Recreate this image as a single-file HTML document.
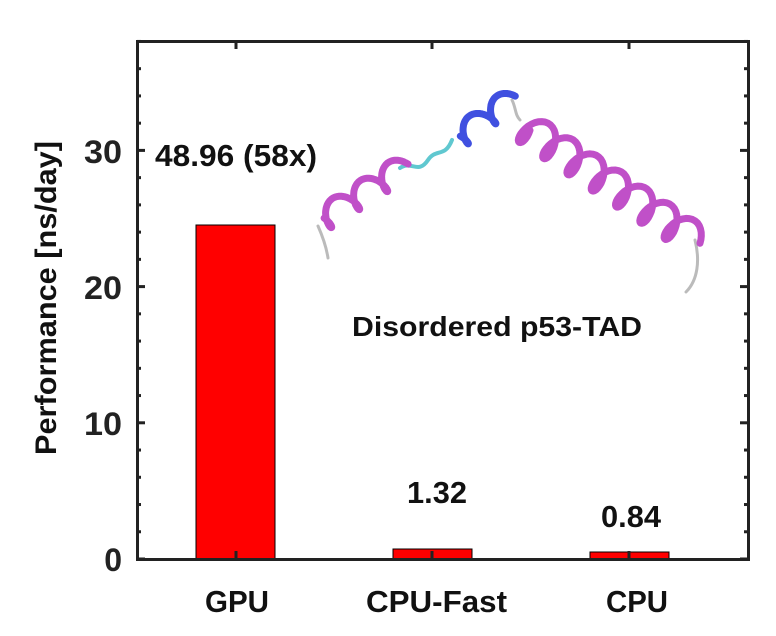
<!DOCTYPE html>
<html><head><style>body{margin:0;background:#fff}svg{display:block}</style></head><body>
<svg id="s" width="776" height="636" viewBox="0 0 776 636" xmlns="http://www.w3.org/2000/svg" font-family="Liberation Sans, Arial, sans-serif" font-weight="bold">
<rect width="776" height="636" fill="#fff"/>
<rect x="196" y="225" width="79" height="334" fill="#f00" stroke="#000" stroke-width="1"/>
<rect x="393" y="549" width="79" height="10" fill="#f00" stroke="#000" stroke-width="1"/>
<rect x="590" y="552" width="79" height="7" fill="#f00" stroke="#000" stroke-width="1"/>
<g id="prot" fill="none" stroke-linecap="round" stroke-linejoin="round">
<path d="M328 258 C326 245,322 235,318 226" stroke="#bbb" stroke-width="3"/>
<path d="M400 168 C412 160,418 175,428 160 C436 148,445 158,452 140" stroke="#60c8d0" stroke-width="4"/>
<path d="M512 100 C516 108,515 115,520 120" stroke="#bbb" stroke-width="3"/>
<path d="M695 240 C700 260,698 280,686 292" stroke="#bbb" stroke-width="3"/>
</g>
<rect x="137.5" y="41.5" width="611" height="518" fill="none" stroke="#222" stroke-width="3"/>
<g id="ticks" stroke="#222" stroke-width="3">
<line x1="236" y1="559" x2="236" y2="551"/><line x1="432" y1="559" x2="432" y2="551"/><line x1="629" y1="559" x2="629" y2="551"/>
<line x1="236" y1="41" x2="236" y2="49"/><line x1="432" y1="41" x2="432" y2="49"/><line x1="629" y1="41" x2="629" y2="49"/>
</g>
<g font-size="32" fill="#222" text-anchor="end">
<text x="122" y="571">0</text><text x="122" y="435" textLength="38" lengthAdjust="spacingAndGlyphs">10</text><text x="122" y="299" textLength="38" lengthAdjust="spacingAndGlyphs">20</text><text x="122" y="163" textLength="38" lengthAdjust="spacingAndGlyphs">30</text>
</g>
<text transform="translate(56,298) rotate(-90)" font-size="30" text-anchor="middle" fill="#111" textLength="314" lengthAdjust="spacingAndGlyphs">Performance [ns/day]</text>
<g font-size="31" fill="#111">
<text x="205" y="612" textLength="64" lengthAdjust="spacingAndGlyphs">GPU</text>
<text x="366" y="612" textLength="141" lengthAdjust="spacingAndGlyphs">CPU-Fast</text>
<text x="606" y="612" textLength="62" lengthAdjust="spacingAndGlyphs">CPU</text>
<text x="155" y="166" textLength="162" lengthAdjust="spacingAndGlyphs">48.96 (58x)</text>
<text x="407" y="503" textLength="60" lengthAdjust="spacingAndGlyphs">1.32</text>
<text x="601" y="527" textLength="60" lengthAdjust="spacingAndGlyphs">0.84</text>
<text x="352" y="336" font-size="28" textLength="290" lengthAdjust="spacingAndGlyphs">Disordered p53-TAD</text>
</g>
</svg>
<script>
var NS="http://www.w3.org/2000/svg";
var t=document.getElementById("ticks");
function ln(a,b,c,d){var l=document.createElementNS(NS,"line");l.setAttribute("x1",a);l.setAttribute("y1",b);l.setAttribute("x2",c);l.setAttribute("y2",d);t.appendChild(l);}
for(var v=0;v<=38;v+=2){var y=559-v*13.62;var L=(v%10==0)?8:4;ln(137,y,137+L,y);ln(748,y,748-L,y);}
var g=document.getElementById("prot");
function helix(ax,ay,bx,by,n,r,col,w){var dx=bx-ax,dy=by-ay,len=Math.hypot(dx,dy),ux=dx/len,uy=dy/len,px=-uy,py=ux,d="";
for(var i=0;i<=200;i++){var s=i/200,a=2*Math.PI*n*s;var x=ax+dx*s+px*r*Math.sin(a)+ux*r*0.6*Math.cos(a);var y=ay+dy*s+py*r*Math.sin(a)+uy*r*0.6*Math.cos(a);d+=(i?"L":"M")+x.toFixed(1)+" "+y.toFixed(1);}
var p=document.createElementNS(NS,"path");p.setAttribute("d",d);p.setAttribute("stroke",col);p.setAttribute("stroke-width",w);g.appendChild(p);}
helix(318,222,402,168,3,12,"#c050c8",7);
helix(455,140,510,100,2,11,"#4050e0",7);
helix(522,125,692,238,7,16,"#c050c8",7);
</script>
</body></html>
